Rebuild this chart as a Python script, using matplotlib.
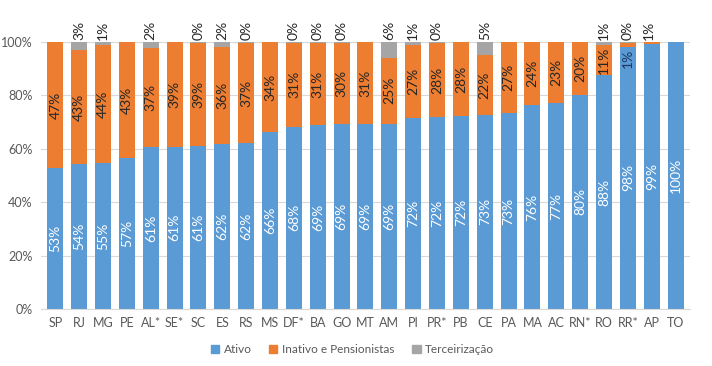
import numpy as np
import matplotlib
matplotlib.use('Agg')
from matplotlib import pyplot as plt
from matplotlib.patches import Patch

plt.rcParams['font.family'] = ['Lato', 'DejaVu Sans']

# estados (ordem do grafico)
estados = ['SP', 'RJ', 'MG', 'PE', 'AL*', 'SE*', 'SC', 'ES', 'RS', 'MS', 'DF*', 'BA', 'GO', 'MT',
           'AM', 'PI', 'PR*', 'PB', 'CE', 'PA', 'MA', 'AC', 'RN*', 'RO', 'RR*', 'AP', 'TO']
# participacao (%) de cada grupo
ativo = [52.8, 54.3, 54.6, 56.6, 60.6, 60.8, 60.9, 61.8, 62.2, 66.3, 68.3, 68.8, 69.4, 69.4,
         69.4, 71.6, 71.8, 72.2, 72.8, 73.4, 76.3, 77.0, 80.3, 87.6, 98.3, 99.1, 100.0]
inativo = [47.2, 42.8, 44.3, 43.4, 37.2, 39.2, 38.8, 36.2, 37.4, 33.7, 31.4, 30.9, 30.3, 30.6,
           24.8, 27.3, 27.8, 27.8, 22.2, 26.6, 23.7, 23.0, 19.7, 11.2, 1.4, 0.9, 0.0]
terceirizacao = [0.0, 2.9, 1.1, 0.0, 2.2, 0.0, 0.3, 2.0, 0.4, 0.0, 0.3, 0.3, 0.3, 0.0,
                 5.8, 1.1, 0.4, 0.0, 5.0, 0.0, 0.0, 0.0, 0.0, 1.2, 0.3, 0.0, 0.0]

c_ativo = '#5B9BD5'
c_inativo = '#ED7D31'
c_terc = '#A5A5A5'
c_txt = '#595959'

ativo = np.array(ativo)
inativo = np.array(inativo)
terceirizacao = np.array(terceirizacao)
x = np.arange(len(estados))

fig = plt.figure(figsize=(7.12, 3.66), dpi=100)
ax = fig.add_axes([0.0576, 0.156, 0.9114, 0.729])

w = 0.67
ax.bar(x, ativo, w, color=c_ativo, zorder=2)
ax.bar(x, inativo, w, bottom=ativo, color=c_inativo, zorder=2)
ax.bar(x, terceirizacao, w, bottom=ativo + inativo, color=c_terc, zorder=2)

fs = 10
for i in range(len(x)):
    # ativo - white, centered
    ax.text(x[i], ativo[i] / 2, '%d%%' % round(ativo[i]), rotation=90, ha='center', va='center',
            color='white', fontsize=fs, zorder=3)
    # inativo
    if inativo[i] >= 5:
        ax.text(x[i], ativo[i] + inativo[i] / 2, '%d%%' % round(inativo[i]), rotation=90,
                ha='center', va='center', color='#262626', fontsize=fs, zorder=3)
    elif inativo[i] > 0 and terceirizacao[i] > 0:
        # small segment: label spills into the blue bar
        ax.text(x[i], 94, '%d%%' % round(inativo[i]), rotation=90,
                ha='center', va='center', color='#1F3864', fontsize=fs, zorder=3)
    elif inativo[i] > 0:
        ax.text(x[i] - 0.12, 100.8, '%d%%' % round(inativo[i]), rotation=90,
                ha='center', va='bottom', color='#262626', fontsize=fs, zorder=3, clip_on=False)
    # terceirizacao - above bar
    if terceirizacao[i] > 0:
        ax.text(x[i], 100.8, '%d%%' % round(terceirizacao[i]), rotation=90,
                ha='center', va='bottom', color='#262626', fontsize=fs, zorder=3, clip_on=False)

ax.set_xlim(-0.6, len(x) - 0.4)
ax.set_ylim(0, 100)
ax.set_yticks(np.arange(0, 101, 20))
ax.set_yticklabels(['%d%%' % v for v in range(0, 101, 20)])
ax.set_xticks(x)
ax.set_xticklabels(estados)
ax.tick_params(axis='both', length=0, colors=c_txt, labelsize=9)
ax.tick_params(axis='x', pad=6)
ax.tick_params(axis='y', pad=6)
ax.yaxis.grid(True, color='#D9D9D9', linewidth=0.8, zorder=0)
for s in ['top', 'right', 'left']:
    ax.spines[s].set_visible(False)
ax.spines['bottom'].set_color('#D9D9D9')

handles = [Patch(color=c_ativo, label='Ativo'),
           Patch(color=c_inativo, label='Inativo e Pensionistas'),
           Patch(color=c_terc, label='Terceirização')]
leg = fig.legend(handles=handles, loc='center', bbox_to_anchor=(0.495, 0.045), ncol=3,
                 frameon=False, fontsize=8.5, handlelength=0.7, handleheight=0.7,
                 handletextpad=0.4, columnspacing=1.5)
for t in leg.get_texts():
    t.set_color(c_txt)

fig.savefig('out.png', dpi=100)
